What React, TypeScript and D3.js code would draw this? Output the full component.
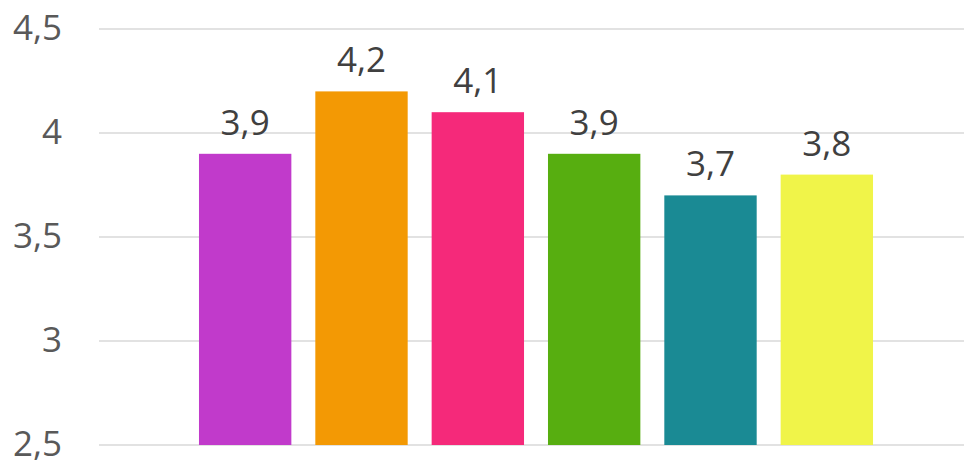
import React from "react";
import * as d3 from "d3";

const categories = ["A", "B", "C", "D", "E", "F"];
const values = [3.9, 4.2, 4.1, 3.9, 3.7, 3.8];
const colors = ["#C13ACB", "#F39904", "#F5297A", "#57AE10", "#1A8A94", "#F0F449"];
const yTicks = [2.5, 3, 3.5, 4, 4.5];

const W = 964;
const H = 461;

export default function App() {
  const y = d3.scaleLinear().domain([2.5, 4.5]).range([445, 29]);
  const x = d3
    .scaleBand<string>()
    .domain(categories)
    .range([187, 885])
    .paddingInner(0.206)
    .paddingOuter(0.103);
  const fmt = (v: number) => String(v).replace(".", ",");
  const font = "'Open Sans', 'Noto Sans', sans-serif";
  return (
    <div style={{ position: "fixed", left: 0, top: 0, background: "#fff" }}>
      <svg width={W} height={H} style={{ display: "block" }}>
        <rect width={W} height={H} fill="#fff" />
        {yTicks.map((t) => (
          <g key={t}>
            <line x1={99} x2={W} y1={y(t)} y2={y(t)} stroke="#d9d9d9" strokeWidth={1.5} />
            <text
              x={62}
              y={y(t) + 11}
              textAnchor="end"
              fontFamily={font}
              fontSize={35}
              fill="#595959"
            >
              {fmt(t)}
            </text>
          </g>
        ))}
        {categories.map((c, i) => (
          <g key={c}>
            <rect
              x={x(c)}
              y={y(values[i])}
              width={x.bandwidth()}
              height={y(2.5) - y(values[i])}
              fill={colors[i]}
            />
            <text
              x={(x(c) as number) + x.bandwidth() / 2}
              y={y(values[i]) - 19}
              textAnchor="middle"
              fontFamily={font}
              fontSize={35}
              fill="#404040"
            >
              {fmt(values[i])}
            </text>
          </g>
        ))}
      </svg>
    </div>
  );
}
